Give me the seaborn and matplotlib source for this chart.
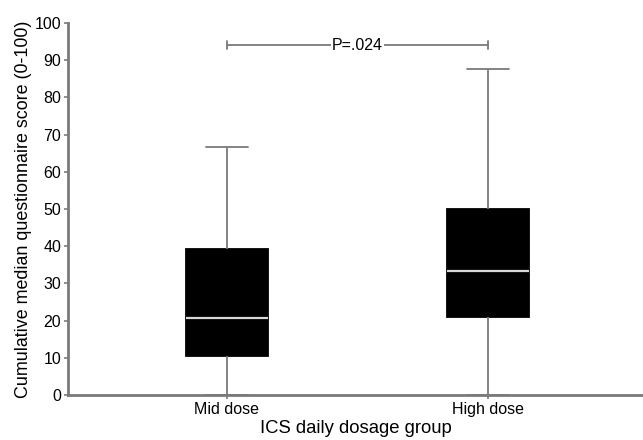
import numpy as np
import pandas as pd
import matplotlib
matplotlib.use("Agg")
import matplotlib.pyplot as plt
import seaborn as sns

# Data: five-number summaries (min, Q1, median, Q3, max)
groups = ["Mid dose", "High dose"]
mid_dose = [0, 10.5, 20.8, 39.3, 66.7]
high_dose = [0, 20.9, 33.3, 50.0, 87.5]
p_text = "P=.024"
p_level = 94
yticks = [0, 10, 20, 30, 40, 50, 60, 70, 80, 90, 100]

df = pd.DataFrame({
    "group": [groups[0]] * len(mid_dose) + [groups[1]] * len(high_dose),
    "score": mid_dose + high_dose,
})

sns.set_style("white")
plt.rcParams["font.family"] = ["Liberation Sans", "DejaVu Sans"]
plt.rcParams["text.color"] = "black"
plt.rcParams["axes.labelcolor"] = "black"
plt.rcParams["xtick.labelcolor"] = "black"
plt.rcParams["ytick.labelcolor"] = "black"

fig = plt.figure(figsize=(6.43, 4.40), dpi=100)
ax = fig.add_axes([68 / 643, 45 / 440, 1 - 68 / 643, (395 - 23) / 440])

gray = "#7a7a7a"
sns.boxplot(
    data=df, x="group", y="score", order=groups, ax=ax,
    whis=(0, 100), width=0.315, color="black", linecolor=gray, linewidth=1.3,
    boxprops=dict(facecolor="black", edgecolor="black"),
    medianprops=dict(color="#d8d8d8", linewidth=1.6),
    whiskerprops=dict(color=gray), capprops=dict(color=gray),
    showfliers=False,
)

ax.set_ylim(0, 100)
ax.set_xlim(-0.609, 1.594)
ax.set_yticks(yticks)
ax.tick_params(axis="both", direction="out", length=3, width=1.2, color=gray,
               labelsize=11.5, labelcolor="black", pad=2, left=True, bottom=True)
for s in ["top", "right"]:
    ax.spines[s].set_visible(False)
for s in ["left", "bottom"]:
    ax.spines[s].set_color(gray)
    ax.spines[s].set_linewidth(2)

ax.set_xlabel("ICS daily dosage group", fontsize=13.3, labelpad=2, color="black")
ax.set_ylabel("Cumulative median questionnaire score (0-100)", fontsize=12.9,
              labelpad=2, color="black")

# significance bracket
ax.plot([0, 1], [p_level, p_level], color=gray, lw=1.3, clip_on=False)
for xx in (0, 1):
    ax.plot([xx, xx], [p_level - 1.1, p_level + 1.1], color=gray, lw=1.3, clip_on=False)
ax.text(0.5, p_level, p_text, ha="center", va="center", fontsize=11.5, color="black",
        bbox=dict(facecolor="white", edgecolor="none", pad=0.5))

fig.savefig("out.png", dpi=100)
